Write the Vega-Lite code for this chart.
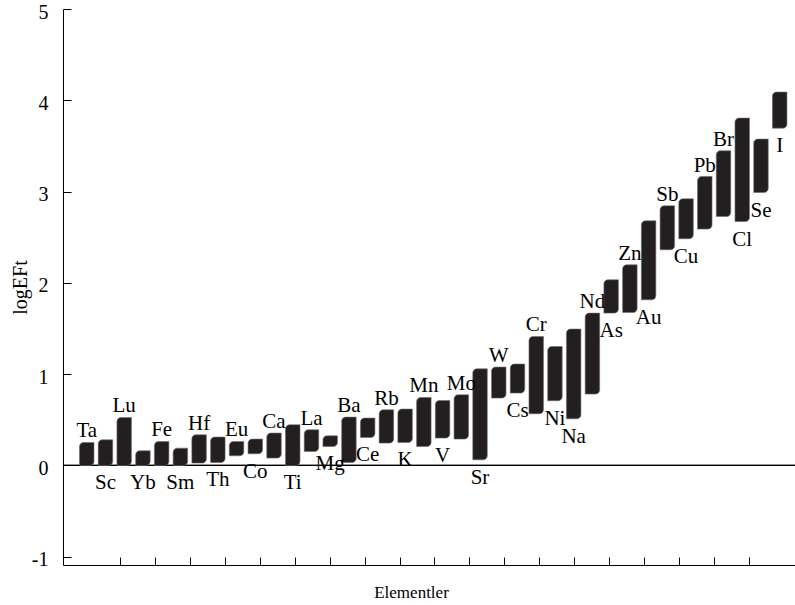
{
  "$schema": "https://vega.github.io/schema/vega-lite/v6.json",
  "width": 732,
  "height": 556,
  "autosize": {"type": "none"},
  "padding": {"left": 63, "top": 9, "right": 0, "bottom": 40},
  "background": "white",
  "config": {
    "font": "Liberation Serif",
    "view": {"stroke": null},
    "text": {"font": "Liberation Serif"},
    "axis": {"grid": false, "domainColor": "black", "tickColor": "black", "labelColor": "black", "titleColor": "black", "titleFontWeight": "normal", "domainWidth": 1, "tickWidth": 1, "labelFont": "Liberation Serif", "titleFont": "Liberation Serif"}
  },
  "data": {
    "values": [
      {"el": "Ta", "i": 1, "lo": 0, "hi": 0.252},
      {"el": "Sc", "i": 2, "lo": 0, "hi": 0.281},
      {"el": "Lu", "i": 3, "lo": 0, "hi": 0.526},
      {"el": "Yb", "i": 4, "lo": 0, "hi": 0.161},
      {"el": "Fe", "i": 5, "lo": 0, "hi": 0.263},
      {"el": "Sm", "i": 6, "lo": 0, "hi": 0.19},
      {"el": "Hf", "i": 7, "lo": 0.026, "hi": 0.336},
      {"el": "Th", "i": 8, "lo": 0.033, "hi": 0.311},
      {"el": "Eu", "i": 9, "lo": 0.106, "hi": 0.263},
      {"el": "Co", "i": 10, "lo": 0.128, "hi": 0.289},
      {"el": "Ca", "i": 11, "lo": 0.081, "hi": 0.355},
      {"el": "Ti", "i": 12, "lo": 0, "hi": 0.446},
      {"el": "La", "i": 13, "lo": 0.153, "hi": 0.391},
      {"el": "Mg", "i": 14, "lo": 0.208, "hi": 0.325},
      {"el": "Ba", "i": 15, "lo": 0.033, "hi": 0.53},
      {"el": "Ce", "i": 16, "lo": 0.307, "hi": 0.519},
      {"el": "Rb", "i": 17, "lo": 0.245, "hi": 0.61},
      {"el": "K", "i": 18, "lo": 0.252, "hi": 0.618},
      {"el": "Mn", "i": 19, "lo": 0.208, "hi": 0.745},
      {"el": "V", "i": 20, "lo": 0.3, "hi": 0.712},
      {"el": "Mo", "i": 21, "lo": 0.289, "hi": 0.774},
      {"el": "Sr", "i": 22, "lo": 0.062, "hi": 1.059},
      {"el": "W", "i": 23, "lo": 0.738, "hi": 1.078},
      {"el": "Cs", "i": 24, "lo": 0.793, "hi": 1.111},
      {"el": "Cr", "i": 25, "lo": 0.566, "hi": 1.413},
      {"el": "Ni", "i": 26, "lo": 0.709, "hi": 1.303},
      {"el": "Na", "i": 27, "lo": 0.511, "hi": 1.494},
      {"el": "Nd", "i": 28, "lo": 0.782, "hi": 1.669},
      {"el": "As", "i": 29, "lo": 1.669, "hi": 2.034},
      {"el": "Zn", "i": 30, "lo": 1.676, "hi": 2.198},
      {"el": "Au", "i": 31, "lo": 1.815, "hi": 2.68},
      {"el": "Sb", "i": 32, "lo": 2.363, "hi": 2.844},
      {"el": "Cu", "i": 33, "lo": 2.483, "hi": 2.921},
      {"el": "Pb", "i": 34, "lo": 2.589, "hi": 3.165},
      {"el": "Br", "i": 35, "lo": 2.727, "hi": 3.447},
      {"el": "Cl", "i": 36, "lo": 2.672, "hi": 3.805},
      {"el": "Se", "i": 37, "lo": 2.99, "hi": 3.575},
      {"el": "I", "i": 38, "lo": 3.695, "hi": 4.09}
    ]
  },
  "encoding": {
    "x": {
      "field": "i", "type": "quantitative",
      "scale": {"domain": [0, 38.55], "nice": false, "zero": false},
      "axis": {
        "title": "Elementler", "titleFontSize": 17, "titleX": 348, "titleY": 32, "titleBaseline": "alphabetic",
        "labels": false, "tickSize": -8,
        "values": [2.79, 4.654, 6.518, 8.382, 10.246, 12.11, 13.974, 15.838, 17.702, 19.566, 21.43, 23.294, 25.158, 27.022, 28.886, 30.75, 32.614, 34.478, 36.342]
      }
    },
    "y": {
      "field": "lo", "type": "quantitative",
      "scale": {"domain": [-1.09, 5], "nice": false, "zero": false},
      "axis": {
        "title": "logEFt", "titleFontSize": 20, "titleX": -33,
        "values": [-1, 0, 1, 2, 3, 4, 5], "tickSize": -8, "labelPadding": 23, "labelOffset": 3,
        "labelFontSize": 20, "labelExpr": "replace(datum.label, '\u2212', '-')"
      }
    }
  },
  "layer": [
    {
      "mark": {"type": "rule", "color": "black", "strokeWidth": 1},
      "encoding": {"y": {"datum": 0, "type": "quantitative"}, "x": null}
    },
    {
      "mark": {"type": "bar", "width": 14.5, "color": "#231f20", "stroke": "#6d6d6d", "strokeWidth": 0.6, "cornerRadiusTopLeft": 4, "cornerRadiusBottomRight": 4},
      "encoding": {"y2": {"field": "hi"}}
    },
    {
      "transform": [{"filter": {"field": "el", "oneOf": ["Ta", "Lu", "Fe", "Hf", "Eu", "Ca", "La", "Ba", "Rb", "Mn", "Mo", "W", "Cr", "Nd", "Zn", "Sb", "Pb", "Br"]}}],
      "mark": {"type": "text", "font": "Liberation Serif", "fontSize": 21, "baseline": "alphabetic", "dy": -5, "color": "black"},
      "encoding": {"y": {"field": "hi", "type": "quantitative"}, "text": {"field": "el"}}
    },
    {
      "transform": [{"filter": {"field": "el", "oneOf": ["Sc", "Yb", "Sm", "Th", "Co", "Ti", "Mg", "Ce", "K", "V", "Sr", "Cs", "Ni", "Na", "As", "Au", "Cu", "Cl", "Se", "I"]}}],
      "mark": {"type": "text", "font": "Liberation Serif", "fontSize": 21, "baseline": "alphabetic", "dy": 24, "color": "black"},
      "encoding": {"text": {"field": "el"}}
    }
  ]
}
